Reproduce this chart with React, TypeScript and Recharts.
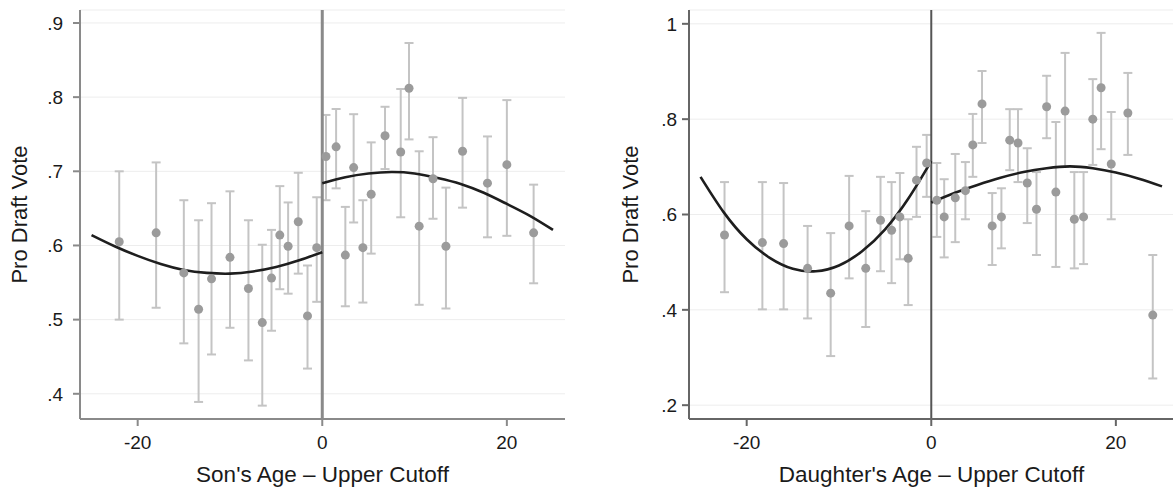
import React from "react";
import { ComposedChart, Scatter, Line, XAxis, YAxis, CartesianGrid, ReferenceLine, ErrorBar } from "recharts";

// Sons: binned means with 95% intervals
const sonAge = [-22, -18, -15, -13.4, -12, -10, -8, -6.5, -5.5, -4.6, -3.7, -2.6, -1.6, -0.6, 0.4, 1.5, 2.5, 3.4, 4.4, 5.3, 6.8, 8.5, 9.4, 10.5, 12, 13.4, 15.2, 17.9, 20, 22.9];
const sonVote = [0.605, 0.617, 0.563, 0.514, 0.555, 0.584, 0.542, 0.496, 0.556, 0.614, 0.599, 0.632, 0.505, 0.597, 0.72, 0.733, 0.587, 0.705, 0.597, 0.669, 0.748, 0.726, 0.812, 0.626, 0.69, 0.599, 0.727, 0.684, 0.709, 0.617];
const sonLow = [0.5, 0.516, 0.468, 0.389, 0.453, 0.489, 0.445, 0.384, 0.485, 0.541, 0.535, 0.562, 0.434, 0.524, 0.661, 0.677, 0.518, 0.631, 0.523, 0.589, 0.703, 0.638, 0.743, 0.52, 0.636, 0.515, 0.651, 0.611, 0.613, 0.549];
const sonHigh = [0.7, 0.712, 0.661, 0.634, 0.657, 0.673, 0.634, 0.601, 0.621, 0.68, 0.658, 0.698, 0.573, 0.665, 0.776, 0.784, 0.652, 0.777, 0.661, 0.739, 0.787, 0.811, 0.873, 0.727, 0.746, 0.678, 0.799, 0.747, 0.796, 0.682];

// Sons: fitted curves either side of the cutoff
const sonFitAgeBelow = [-25, -22.5, -20, -17.5, -15, -12.5, -10, -7.5, -5, -2.5, 0];
const sonFitBelow = [0.614, 0.599, 0.586, 0.575, 0.567, 0.563, 0.562, 0.565, 0.571, 0.58, 0.591];
const sonFitAgeAbove = [0, 2.5, 5, 7.5, 10, 12.5, 15, 17.5, 20, 22.5, 25];
const sonFitAbove = [0.684, 0.692, 0.697, 0.699, 0.697, 0.691, 0.683, 0.671, 0.656, 0.64, 0.621];

// Daughters
const dauAge = [-22.4, -18.3, -16, -13.4, -10.9, -8.9, -7.1, -5.5, -4.3, -3.4, -2.5, -1.6, -0.5, 0.6, 1.4, 2.6, 3.7, 4.5, 5.5, 6.6, 7.6, 8.5, 9.4, 10.4, 11.4, 12.5, 13.5, 14.5, 15.5, 16.5, 17.5, 18.4, 19.5, 21.3, 24];
const dauVote = [0.557, 0.541, 0.539, 0.487, 0.435, 0.576, 0.487, 0.588, 0.567, 0.595, 0.508, 0.672, 0.708, 0.63, 0.595, 0.635, 0.65, 0.746, 0.832, 0.576, 0.595, 0.756, 0.75, 0.666, 0.611, 0.826, 0.647, 0.817, 0.59, 0.595, 0.8, 0.866, 0.706, 0.813, 0.389];
const dauLow = [0.437, 0.401, 0.401, 0.382, 0.303, 0.466, 0.364, 0.481, 0.456, 0.506, 0.41, 0.595, 0.637, 0.553, 0.51, 0.542, 0.59, 0.679, 0.75, 0.494, 0.529, 0.693, 0.668, 0.582, 0.515, 0.76, 0.49, 0.7, 0.487, 0.496, 0.704, 0.737, 0.59, 0.725, 0.256];
const dauHigh = [0.668, 0.668, 0.666, 0.576, 0.561, 0.681, 0.607, 0.679, 0.668, 0.687, 0.59, 0.742, 0.767, 0.708, 0.674, 0.727, 0.71, 0.811, 0.901, 0.645, 0.655, 0.821, 0.821, 0.739, 0.689, 0.891, 0.794, 0.939, 0.689, 0.689, 0.884, 0.981, 0.815, 0.897, 0.515];

const dauFitAgeBelow = [-25, -22.5, -20, -17.5, -15, -12.5, -10, -7.5, -5, -2.5, 0];
const dauFitBelow = [0.679, 0.605, 0.548, 0.509, 0.486, 0.481, 0.493, 0.523, 0.569, 0.633, 0.712];
const dauFitAgeAbove = [0, 2.5, 5, 7.5, 10, 12.5, 15, 17.5, 20, 22.5, 25];
const dauFitAbove = [0.625, 0.645, 0.662, 0.677, 0.689, 0.697, 0.701, 0.697, 0.688, 0.675, 0.659];

const xTicks = [-20, 0, 20];
const sonTicks = [0.4, 0.5, 0.6, 0.7, 0.8, 0.9];
const dauTicks = [0.2, 0.4, 0.6, 0.8, 1];

const FONT = '"Liberation Sans", Arial, Helvetica, sans-serif';

function points(ages: number[], votes: number[], lows: number[], highs: number[]) {
  return ages.map((x, i) => ({ x, y: votes[i], err: [votes[i] - lows[i], highs[i] - votes[i]] }));
}

function curve(ages: number[], fits: number[]) {
  return ages.map((x, i) => ({ x, y: fits[i] }));
}

const fmt = (v: number) => (v === 1 ? "1" : v.toFixed(1).replace(/^0/, ""));

const Dot = (props: any) => <circle cx={props.cx} cy={props.cy} r={4.5} fill="#9b9b9b" />;

interface PanelProps {
  width: number;
  yAxisWidth: number;
  yDomain: [number, number];
  yTicks: number[];
  yTickMargin: number;
  yLabelOffset: number;
  xTitle: string;
  pts: { x: number; y: number; err: number[] }[];
  below: { x: number; y: number }[];
  above: { x: number; y: number }[];
  axisStroke: string;
  cutStroke: string;
  cutWidth: number;
}

function Panel(p: PanelProps) {
  return (
    <ComposedChart
      width={p.width}
      height={491}
      margin={{ top: 10, right: p.width - p.yAxisWidth - 485, bottom: 0, left: 0 }}
      style={{ fontFamily: FONT }}
    >
      <CartesianGrid vertical={false} stroke="#ededed" />
      <XAxis
        type="number"
        dataKey="x"
        domain={[-26.25, 26.3]}
        ticks={xTicks}
        allowDataOverflow
        height={72}
        tickSize={7}
        tickMargin={10}
        stroke={p.axisStroke}
        strokeWidth={2}
        tick={{ fill: "#1a1a1a", fontSize: 19 }}
        label={{ value: p.xTitle, position: "insideBottom", offset: 9, fill: "#1a1a1a", fontSize: 22.5 }}
      />
      <YAxis
        type="number"
        dataKey="y"
        domain={p.yDomain}
        ticks={p.yTicks}
        allowDataOverflow
        width={p.yAxisWidth}
        tickSize={7}
        tickMargin={p.yTickMargin}
        tickFormatter={fmt}
        stroke={p.axisStroke}
        strokeWidth={2}
        tick={{ fill: "#1a1a1a", fontSize: 19 }}
        label={{
          value: "Pro Draft Vote",
          angle: -90,
          position: "insideLeft",
          offset: p.yLabelOffset,
          fill: "#1a1a1a",
          fontSize: 22,
          style: { textAnchor: "middle" },
        }}
      />
      <Scatter data={p.pts} shape={Dot} isAnimationActive={false}>
        <ErrorBar dataKey="err" direction="y" width={4.5} stroke="#c4c4c4" strokeWidth={2} isAnimationActive={false} />
      </Scatter>
      <ReferenceLine x={0} stroke={p.cutStroke} strokeWidth={p.cutWidth} />
      <Line data={p.below} dataKey="y" type="natural" stroke="#1e1e1e" strokeWidth={2.6} dot={false} activeDot={false} isAnimationActive={false} />
      <Line data={p.above} dataKey="y" type="natural" stroke="#1e1e1e" strokeWidth={2.6} dot={false} activeDot={false} isAnimationActive={false} />
    </ComposedChart>
  );
}

export default function App() {
  return (
    <div style={{ position: "absolute", left: 0, top: 0, width: 1173, height: 491, overflow: "hidden", background: "#fff" }}>
      <div style={{ position: "absolute", left: 0, top: 0 }}>
        <Panel
          width={600}
          yAxisWidth={80}
          yDomain={[0.366, 0.9175]}
          yTicks={sonTicks}
          yTickMargin={10}
          yLabelOffset={19}
          xTitle="Son's Age – Upper Cutoff"
          pts={points(sonAge, sonVote, sonLow, sonHigh)}
          below={curve(sonFitAgeBelow, sonFitBelow)}
          above={curve(sonFitAgeAbove, sonFitAbove)}
          axisStroke="#8a8a8a"
          cutStroke="#8a8a8a"
          cutWidth={3}
        />
      </div>
      <div style={{ position: "absolute", left: 600, top: 0 }}>
        <Panel
          width={574}
          yAxisWidth={89}
          yDomain={[0.171, 1.029]}
          yTicks={dauTicks}
          yTickMargin={5}
          yLabelOffset={30}
          xTitle="Daughter's Age – Upper Cutoff"
          pts={points(dauAge, dauVote, dauLow, dauHigh)}
          below={curve(dauFitAgeBelow, dauFitBelow)}
          above={curve(dauFitAgeAbove, dauFitAbove)}
          axisStroke="#666"
          cutStroke="#555"
          cutWidth={2}
        />
      </div>
    </div>
  );
}
